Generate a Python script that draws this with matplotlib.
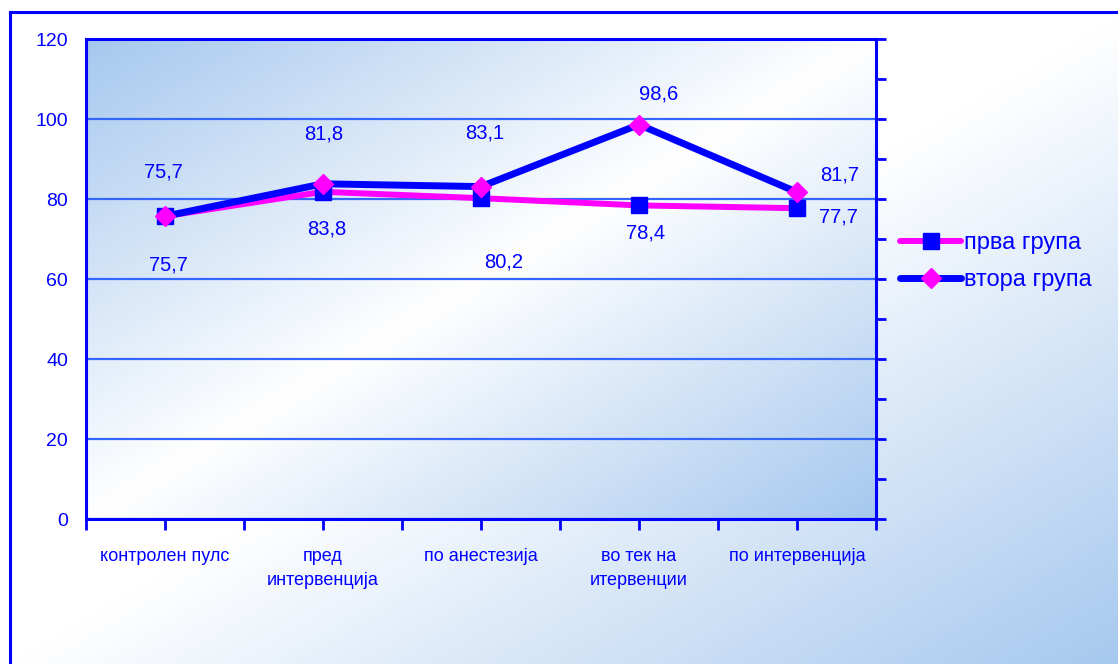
import numpy as np
import matplotlib.pyplot as plt
from matplotlib.colors import to_rgb

# data
categories = ['контролен пулс', 'пред\nинтервенција', 'по анестезија',
              'во тек на\nитервенции', 'по интервенција']
prva = [75.7, 81.8, 80.2, 78.4, 77.7]
vtora = [75.7, 83.8, 83.1, 98.6, 81.7]
series_names = ['прва група', 'втора група']
y_ticks = [0, 20, 40, 60, 80, 100, 120]

W, H = 1118, 664
plt.rcParams['font.family'] = ['Liberation Sans', 'DejaVu Sans']
BLUE = '#0000FF'
PINK = '#FF00FF'
GRID = '#3366FF'
LIGHT = np.array(to_rgb('#A6C8EE'))
WHITE = np.ones(3)


def shade(t):
    t = np.clip(t, 0, 1)[..., None]
    return WHITE * (1 - t) + LIGHT * t


fig = plt.figure(figsize=(W / 100, H / 100), dpi=100)

# background of the chart area (white top-left -> blue bottom-right)
N = 256
u = np.linspace(0, 1, N)[None, :]
d = np.linspace(0, 1, N)[:, None]
bg = fig.add_axes([10 / W, 0, 1 - 10 / W + 0.01, 1 - 12 / H], zorder=-1)
bg.imshow(shade(((u + d) / 2 - 0.5) / 0.5), extent=[0, 1, 0, 1],
          aspect='auto', interpolation='bilinear')
bg.set_xticks([]); bg.set_yticks([])
for side in ['right', 'bottom']:
    bg.spines[side].set_visible(False)
for side in ['left', 'top']:
    bg.spines[side].set_color(BLUE)
    bg.spines[side].set_linewidth(2.2)

# plot area
ax = fig.add_axes([86 / W, 1 - 519 / H, (876 - 86) / W, (519 - 39) / H])
ax.patch.set_visible(False)
ax.imshow(shade(np.abs((u + d) / 2 - 0.5) * 2), extent=[0, 1, 0, 1],
          transform=ax.transAxes, aspect='auto', interpolation='bilinear', zorder=0)

x = np.arange(len(categories))
ax.plot(x, prva, color=PINK, lw=4.3, marker='s', ms=11, mfc=BLUE, mec=BLUE,
        solid_capstyle='round', label=series_names[0], zorder=3)
ax.plot(x, vtora, color=BLUE, lw=5, marker='D', ms=10, mfc=PINK, mec=PINK,
        solid_capstyle='round', label=series_names[1], zorder=4)

ax.set_xlim(-0.5, len(categories) - 0.5)
ax.set_ylim(0, 120)
ax.set_yticks(y_ticks)
ax.tick_params(axis='y', length=0, pad=13, labelsize=14, labelcolor=BLUE)
ax.set_xticks(x)
ax.set_xticklabels(categories, linespacing=1.5)
ax.set_xticks(np.arange(-0.5, len(categories), 1), minor=True)
ax.tick_params(axis='x', which='both', direction='out', length=8, width=2, color=BLUE)
ax.tick_params(axis='x', which='major', pad=13, labelsize=13, labelcolor=BLUE)
for s in ax.spines.values():
    s.set_color(BLUE)
    s.set_linewidth(2.2)
ax.yaxis.grid(True, color=GRID, lw=1.6)

# right axis: ticks every 10, no labels
ax2 = ax.twinx()
ax2.set_ylim(0, 120)
ax2.set_yticks(range(0, 121, 10))
ax2.tick_params(axis='y', length=7, width=2, color=BLUE, labelright=False, direction='out')
for s in ax2.spines.values():
    s.set_visible(False)

# data labels (pixel offsets, y down)
offs_prva = [(3, 49), (1, -58), (23, 64), (7, 28), (41, 9)]
offs_vtora = [(-2, -44), (4, 45), (4, -54), (20, -31), (43, -17)]
for vals, offs in [(prva, offs_prva), (vtora, offs_vtora)]:
    for xi, v, (dx, dy) in zip(x, vals, offs):
        ax.annotate(f'{v:.1f}'.replace('.', ','), (xi, v), xytext=(dx, -dy),
                    textcoords='offset pixels', ha='center', va='center',
                    fontsize=14.5, color=BLUE, zorder=5)

h, l = ax.get_legend_handles_labels()
fig.legend(h, l, loc='upper left', bbox_to_anchor=(900 / W, 1 - 232 / H),
           frameon=False, fontsize=17, handlelength=2.6, handletextpad=0.1,
           labelspacing=0.65, borderaxespad=0, borderpad=0, labelcolor=BLUE)

fig.savefig('out.png', dpi=100)
